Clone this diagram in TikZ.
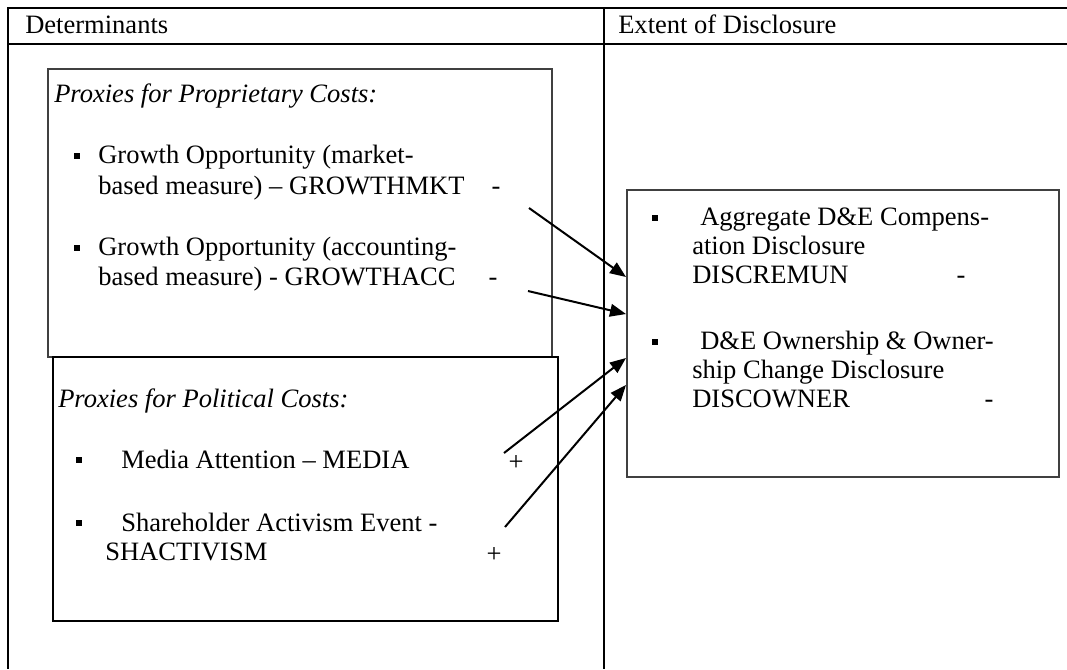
\documentclass[tikz,border=0pt]{standalone}
\usepackage{fontspec}
\setmainfont{Liberation Serif}
\usetikzlibrary{arrows.meta}

\tikzset{
  rule/.style={line width=1.5pt},
  panel/.style={line width=1pt,draw=black!75},
  lbl/.style={anchor=base west,inner sep=0pt,font=\fontsize{19.9}{24}\selectfont},
  proxy/.style={lbl,font=\fontsize{19.9}{24}\selectfont\itshape},
  signlbl/.style={anchor=base,inner sep=0pt,font=\fontsize{19.9}{24}\selectfont},
  sq/.style={fill=black,inner sep=0pt,minimum size=4.6pt},
  link/.style={line width=1.5pt,-{Triangle[length=12pt,width=9.5pt]}}
}

\begin{document}
\begin{tikzpicture}[x=0.75pt,y=-0.75pt]
    \useasboundingbox (0,0) rectangle (1067,669);

    % the table
    \draw[rule] (1067,8) -- (8,8) -- (8,669);
    \draw[rule] (8,44) -- (1067,44);
    \draw[rule] (604,8) -- (604,669);
    \node[lbl] (det) at (25,33) {Determinants};
    \node[lbl] (ext) at (618,33) {Extent of Disclosure};

    % proprietary costs
    \draw[panel] (48,69) rectangle (552,357);
    \node[proxy] (prop) at (54,102) {Proxies for Proprietary Costs:};
    \node[sq] (bmkt) at (77,156) {};
    \node[lbl] (mkt) at (98,163) {Growth Opportunity (market-};
    \node[lbl] (mktb) at (98,194) {based measure) – GROWTHMKT};
    \node[signlbl] (smkt) at (496,194) {-};
    \node[sq] (bacc) at (77,248) {};
    \node[lbl] (acc) at (98,255) {Growth Opportunity (accounting-};
    \node[lbl] (accb) at (98,285) {based measure) - GROWTHACC};
    \node[signlbl] (sacc) at (493,285) {-};

    % political costs
    \draw[panel,draw=black,line width=1.3pt] (53,357) rectangle (558,621);
    \node[proxy] (pol) at (58,407) {Proxies for Political Costs:};
    \node[sq] (bmed) at (79,460) {};
    \node[lbl] (med) at (121,468) {Media Attention – MEDIA};
    \node[signlbl] (smed) at (516,470) {+};
    \node[sq] (bsha) at (79,523) {};
    \node[lbl] (sha) at (121,531) {Shareholder Activism Event -};
    \node[lbl] (shab) at (105,560) {SHACTIVISM};
    \node[signlbl] (ssha) at (494,562) {+};

    % extent of disclosure
    \draw[panel] (627,190) rectangle (1059,477);
    \node[sq] (brem) at (655,218) {};
    \node[lbl] (rem) at (700,225) {Aggregate D\&E Compens-};
    \node[lbl] (remb) at (692,254) {ation Disclosure};
    \node[lbl] (remc) at (692,283) {DISCREMUN};
    \node[signlbl] (srem) at (961,283) {-};
    \node[sq] (bown) at (655,342) {};
    \node[lbl] (own) at (700,349) {D\&E Ownership \& Owner-};
    \node[lbl] (ownb) at (692,378) {ship Change Disclosure};
    \node[lbl] (ownc) at (692,407) {DISCOWNER};
    \node[signlbl] (sown) at (989,407) {-};

    % the arrows
    \coordinate (amkt) at (529,208);
    \coordinate (aacc) at (528,291);
    \coordinate (amed) at (504,453);
    \coordinate (asha) at (505,527);
    \coordinate (e1) at (626,277);
    \coordinate (e2) at (626,314);
    \coordinate (e3) at (626,358);
    \coordinate (e4) at (626,385);
    \draw[link] (amkt) -- (e1);
    \draw[link] (aacc) -- (e2);
    \draw[link] (amed) -- (e3);
    \draw[link] (asha) -- (e4);
\end{tikzpicture}
\end{document}
